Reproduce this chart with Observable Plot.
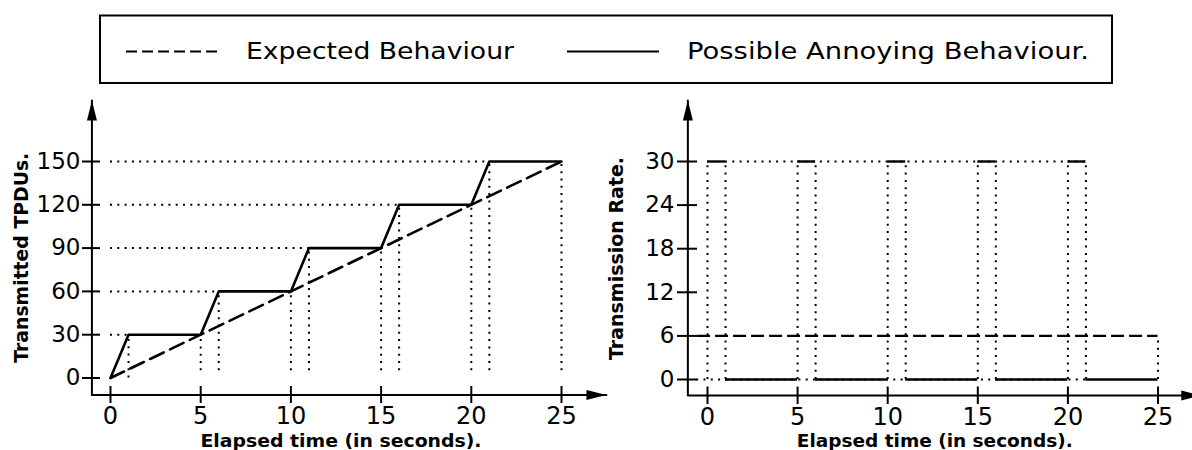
<!DOCTYPE html>
<html>
<head>
<meta charset="utf-8">
<script src="https://cdn.jsdelivr.net/npm/d3@7"></script>
<script src="https://cdn.jsdelivr.net/npm/@observablehq/plot@0.6"></script>
<style>
  body { margin: 0; background: #fff; }
  #root { position: relative; width: 1192px; height: 450px; overflow: hidden; background: #fff; }
  .abs { position: absolute; top: 0; }
  svg { max-width: none !important; overflow: visible; }
</style>
</head>
<body>
<div id="root">
  <div id="left" class="abs" style="left:0px"></div>
  <div id="right" class="abs" style="left:600px"></div>
  <div id="legend" class="abs" style="left:0px"></div>
</div>
<script>
// ---------------- DATA ----------------
const legendLabels = ["Expected Behaviour", "Possible Annoying Behaviour."];
const xTitle = "Elapsed time (in seconds).";
const leftYTitle = "Transmitted TPDUs.";
const rightYTitle = "Transmission Rate.";

const timeTicks = [0, 5, 10, 15, 20, 25];
const tpduTicks = [0, 30, 60, 90, 120, 150];
const rateTicks = [0, 6, 12, 18, 24, 30];

// Left chart: transmitted TPDUs
const expectedTime = [0, 25];
const expectedTPDUs = [0, 150];
const annoyingTime = [0, 1, 5, 6, 10, 11, 15, 16, 20, 21, 25];
const annoyingTPDUs = [0, 30, 30, 60, 60, 90, 90, 120, 120, 150, 150];
// dotted guides (left)
const hGuideLevel = [30, 60, 90, 120, 150];
const hGuideEnd = [1, 6, 11, 16, 21];
const vGuideTime = [1, 5, 6, 10, 11, 15, 16, 20, 21, 25];
const vGuideTop = [30, 30, 60, 60, 90, 90, 120, 120, 150, 150];
const vGuideBottom = [0, 5, 5, 5, 5, 5, 5, 5, 5, 5];

// Right chart: transmission rate
const expectedRate = 6;
const expectedRateRange = [-0.55, 25];
const rateStart = [0, 1, 5, 6, 10, 11, 15, 16, 20, 21];
const rateEnd = [1, 5, 6, 10, 11, 15, 16, 20, 21, 25];
const rateValue = [30, 0, 30, 0, 30, 0, 30, 0, 30, 0];
const rateSwitchTime = [0, 1, 5, 6, 10, 11, 15, 16, 20, 21];

// axis line extents (data units)
const leftAxis = { x0: -1.03, y0: -11.8, xTip: 27.49, yTip: 192.3 };
const rightAxis = { x0: -1.09, y0: -2.2, xTip: 27.4, yTip: 38.4 };

// ---------------- STYLE ----------------
const FONT = '"DejaVu Sans", sans-serif';
const dotted = { stroke: "black", strokeWidth: 2, strokeDasharray: "2,5.3" };
const arrowUp = { draw(ctx) { ctx.moveTo(0, 0); ctx.lineTo(5, 20); ctx.lineTo(-5, 20); ctx.closePath(); } };
const arrowRight = { draw(ctx) { ctx.moveTo(0, 0); ctx.lineTo(-20, -5); ctx.lineTo(-20, 5); ctx.closePath(); } };

function axisMarks(A) {
  const corner = [
    { x: A.x0, y: A.yTip },
    { x: A.x0, y: A.y0 },
    { x: A.xTip, y: A.y0 }
  ];
  return [
    Plot.line(corner, { x: "x", y: "y", stroke: "black", strokeWidth: 2, fill: "none", curve: "linear" }),
    Plot.dot([{ x: A.x0, y: A.yTip }], { x: "x", y: "y", symbol: arrowUp, fill: "black", stroke: "none" }),
    Plot.dot([{ x: A.xTip, y: A.y0 }], { x: "x", y: "y", symbol: arrowRight, fill: "black", stroke: "none" })
  ];
}

// ---------------- LEFT CHART ----------------
const annoyingPts = annoyingTime.map((t, i) => ({ t, v: annoyingTPDUs[i] }));
const expectedPts = expectedTime.map((t, i) => ({ t, v: expectedTPDUs[i] }));
const hGuides = hGuideLevel.map((y, i) => ({ y, x1: 0, x2: hGuideEnd[i] }));
const vGuides = vGuideTime.map((x, i) => ({ x, y1: vGuideBottom[i], y2: vGuideTop[i] }));

const left = Plot.plot({
  width: 620, height: 450,
  marginLeft: 110, marginRight: 59, marginTop: 161, marginBottom: 72.5,
  x: { domain: [0, 25] },
  y: { domain: [0, 150] },
  style: { fontFamily: FONT, background: "transparent", color: "black", overflow: "visible" },
  marks: [
    Plot.ruleY(hGuides, { y: "y", x1: "x1", x2: "x2", ...dotted }),
    Plot.ruleX(vGuides, { x: "x", y1: "y1", y2: "y2", ...dotted }),
    Plot.line(expectedPts, { x: "t", y: "v", stroke: "black", strokeWidth: 2.6, strokeDasharray: "15,7" }),
    Plot.line(annoyingPts, { x: "t", y: "v", stroke: "black", strokeWidth: 2.6 }),
    ...axisMarks(leftAxis),
    Plot.axisY(tpduTicks, { anchor: "left", tickSize: 18, tickPadding: 2, dx: -10, fontSize: 23, strokeWidth: 2, label: null }),
    Plot.axisX(timeTicks, { anchor: "bottom", tickSize: 17, tickPadding: 3.5, dy: 8.5, fontSize: 24, strokeWidth: 2, label: null }),
    Plot.text([leftYTitle], { frameAnchor: "left", text: d => d, rotate: -90, textAnchor: "middle", lineAnchor: "middle", dx: -89, dy: -12, fontSize: 19, fontWeight: "bold" }),
    Plot.text([xTitle], { frameAnchor: "bottom", text: d => d, textAnchor: "middle", dx: 5, dy: 68.5, lineAnchor: "bottom", fontSize: 18.5, fontWeight: "bold" })
  ]
});
document.getElementById("left").appendChild(left);

// ---------------- RIGHT CHART ----------------
const rateSegs = rateStart.map((s, i) => ({ x1: s, x2: rateEnd[i], y: rateValue[i] }));
const rateVerticals = rateSwitchTime.map(x => ({ x, y1: 0, y2: 30 }));

const right = Plot.plot({
  width: 592, height: 450,
  marginLeft: 107, marginRight: 34.5, marginTop: 161, marginBottom: 71,
  x: { domain: [0, 25] },
  y: { domain: [0, 30] },
  style: { fontFamily: FONT, background: "transparent", color: "black", overflow: "visible" },
  marks: [
    Plot.ruleX(rateVerticals, { x: "x", y1: "y1", y2: "y2", ...dotted }),
    Plot.ruleX([25], { x: d => d, y1: 0, y2: expectedRate, ...dotted }),
    Plot.ruleY([30], { y: d => d, x1: 1, x2: 21, ...dotted }),
    Plot.ruleY([0], { y: d => d, x1: -0.6, x2: 21, ...dotted }),
    Plot.ruleY([expectedRate], { y: d => d, x1: expectedRateRange[0], x2: expectedRateRange[1], stroke: "black", strokeWidth: 2.2, strokeDasharray: "13,5" }),
    Plot.ruleY(rateSegs, { y: "y", x1: "x1", x2: "x2", stroke: "black", strokeWidth: 2.4 }),
    ...axisMarks(rightAxis),
    Plot.axisY(rateTicks, { anchor: "left", tickSize: 20, tickPadding: 3, dx: -10, fontSize: 23, strokeWidth: 2, label: null }),
    Plot.axisX(timeTicks, { anchor: "bottom", tickSize: 17.5, tickPadding: 3.5, dy: 7.5, fontSize: 24, strokeWidth: 2, label: null }),
    Plot.text([rightYTitle], { frameAnchor: "left", text: d => d, rotate: -90, textAnchor: "middle", lineAnchor: "middle", dx: -91, dy: -12, fontSize: 19, fontWeight: "bold" }),
    Plot.text([xTitle], { frameAnchor: "bottom", text: d => d, textAnchor: "middle", dx: 2, dy: 67.5, lineAnchor: "bottom", fontSize: 18.5, fontWeight: "bold" })
  ]
});
document.getElementById("right").appendChild(right);

// fit title widths to the reference
function fitText(svg, content, len) {
  d3.select(svg).selectAll("text").filter(function () { return this.textContent === content; })
    .attr("textLength", len).attr("lengthAdjust", "spacingAndGlyphs");
}
fitText(left, xTitle, 281);
fitText(right, xTitle, 276);
fitText(left, leftYTitle, 210);
fitText(right, rightYTitle, 203);

// ---------------- LEGEND ----------------
const lg = d3.select("#legend").append("svg")
  .attr("width", 1192).attr("height", 95)
  .style("font-family", FONT);
lg.append("rect").attr("x", 100).attr("y", 15.5).attr("width", 1012).attr("height", 67.5)
  .attr("fill", "white").attr("stroke", "black").attr("stroke-width", 2);
lg.append("line").attr("x1", 126).attr("x2", 218).attr("y1", 51.5).attr("y2", 51.5)
  .attr("stroke", "black").attr("stroke-width", 2.2).attr("stroke-dasharray", "11,5");
lg.append("text").attr("x", 246).attr("y", 58.5).attr("font-size", 23.5)
  .attr("textLength", 268).attr("lengthAdjust", "spacingAndGlyphs").text(legendLabels[0]);
lg.append("line").attr("x1", 567).attr("x2", 659).attr("y1", 51.5).attr("y2", 51.5)
  .attr("stroke", "black").attr("stroke-width", 2.2);
lg.append("text").attr("x", 687).attr("y", 58.5).attr("font-size", 23.5)
  .attr("textLength", 402).attr("lengthAdjust", "spacingAndGlyphs").text(legendLabels[1]);
</script>
</body>
</html>
